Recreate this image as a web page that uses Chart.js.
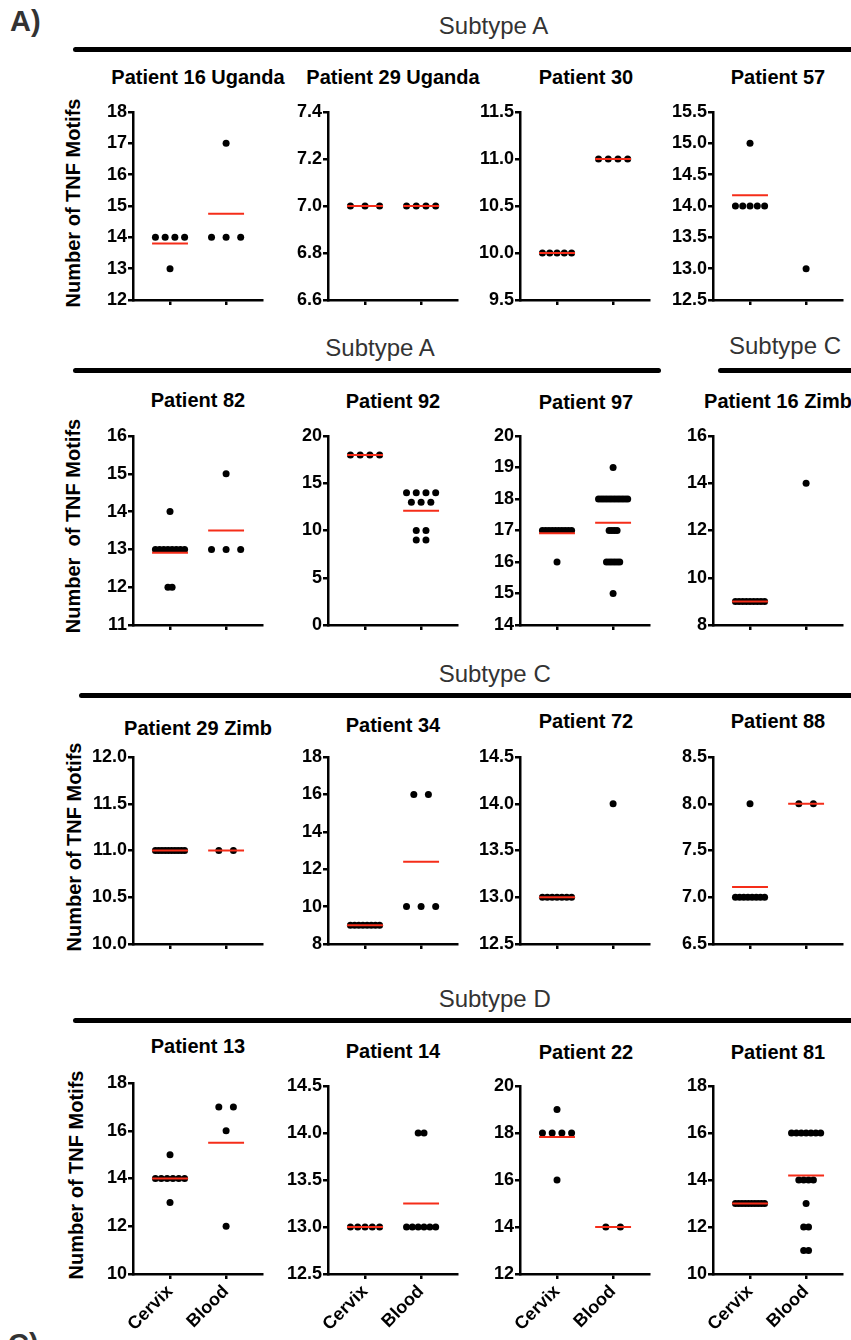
<!DOCTYPE html>
<html>
<head>
<meta charset="utf-8">
<script src="https://cdn.jsdelivr.net/npm/chart.js@4.4.1/dist/chart.umd.min.js"></script>
<style>
  html, body { margin: 0; padding: 0; background: #fff; }
  body { width: 851px; height: 1340px; position: relative; overflow: hidden; font-family: 'Liberation Sans', Arial, sans-serif; }
  canvas { position: absolute; }
  .txt { position: absolute; white-space: pre; }
  .title { font-weight: bold; font-size: 20px; line-height: 20px; width: 240px; text-align: center; color: #000; }
  .subtype { font-size: 24px; line-height: 24px; width: 240px; text-align: center; color: #333; }
  .ylab { font-weight: bold; font-size: 20px; line-height: 24px; width: 300px; height: 24px; text-align: center; color: #000; transform: rotate(-90deg); }
  .letter { font-weight: bold; font-size: 29px; line-height: 29px; color: #333; }
  .rule { position: absolute; height: 5px; background: #000; border-radius: 3px; }
</style>
</head>
<body>
<script>
// panel data (row by row, left to right)
const titles = [
  "Patient 16 Uganda", "Patient 29 Uganda", "Patient 30", "Patient 57",
  "Patient 82", "Patient 92", "Patient 97", "Patient 16 Zimb",
  "Patient 29 Zimb", "Patient 34", "Patient 72", "Patient 88",
  "Patient 13", "Patient 14", "Patient 22", "Patient 81"
];
const categories = ["Cervix", "Blood"];

const cervix = [
  [14, 14, 14, 14, 13],
  [7, 7, 7],
  [10, 10, 10, 10, 10],
  [15, 14, 14, 14, 14, 14],
  [14, 13, 13, 13, 13, 13, 13, 13, 13, 12, 12],
  [18, 18, 18, 18],
  [17, 17, 17, 17, 17, 17, 17, 17, 17, 17, 16],
  [9, 9, 9, 9, 9, 9, 9, 9, 9],
  [11, 11, 11, 11, 11, 11, 11, 11, 11, 11],
  [9, 9, 9, 9, 9, 9, 9, 9],
  [13, 13, 13, 13, 13, 13, 13],
  [8, 7, 7, 7, 7, 7, 7, 7, 7],
  [15, 14, 14, 14, 14, 14, 14, 13],
  [13, 13, 13, 13, 13],
  [19, 18, 18, 18, 18, 16],
  [13, 13, 13, 13, 13, 13, 13, 13, 13, 13]
];
const blood = [
  [17, 14, 14, 14],
  [7, 7, 7, 7],
  [11, 11, 11, 11],
  [13],
  [15, 13, 13, 13],
  [14, 14, 14, 14, 13, 13, 13, 10, 10, 9, 9],
  [19, 18, 18, 18, 18, 18, 18, 18, 18, 18, 18, 18, 18, 17, 17, 17, 17, 16, 16, 16, 16, 16, 16, 15],
  [14],
  [11, 11],
  [16, 16, 10, 10, 10],
  [14],
  [8, 8],
  [17, 17, 16, 12],
  [14, 14, 13, 13, 13, 13, 13, 13],
  [14, 14],
  [16, 16, 16, 16, 16, 16, 16, 14, 14, 14, 14, 13, 12, 12, 11, 11]
];
const cervixMean = [13.8, 7, 10, 14.17, 12.91, 18, 16.91, 9, 11, 9, 13, 7.11, 14, 13, 17.83, 13];
const bloodMean = [14.75, 7, 11, null, 13.5, 12.09, 17.25, null, 11, 12.4, null, 8, 15.5, 13.25, 14, 14.19];

const yMin = [12, 6.6, 9.5, 12.5, 11, 0, 14, 8, 10, 8, 12.5, 6.5, 10, 12.5, 12, 10];
const yMax = [18, 7.4, 11.5, 15.5, 16, 20, 20, 16, 12, 18, 14.5, 8.5, 18, 14.5, 20, 18];
const yStep = [1, 0.2, 0.5, 0.5, 1, 5, 1, 2, 0.5, 2, 0.5, 0.5, 2, 0.5, 2, 2];

const yTitles = ["Number of TNF Motifs", "Number  of TNF Motifs", "Number of TNF Motifs", "Number of TNF Motifs"];

// layout (pixels)
const axisX = [133, 328, 520, 713];
const titleX = [198, 393, 586, 778];
const plotW = 129;
const plotTop = [112, 112, 112, 112, 436, 436, 436, 436, 757, 757, 757, 757, 1083, 1086, 1086, 1086];
const plotBottom = [300, 300, 300, 300, 624.5, 624.5, 624.5, 624.5, 944, 944, 944, 944, 1273.5, 1274, 1274, 1274];
const titleBase = [84, 84, 84, 84, 407, 408, 409, 408, 735, 732, 728, 728, 1053, 1058, 1059, 1059];
const yTitlePos = [[73, 203], [73, 526], [74, 847], [76, 1175]];

const RED = "rgb(245,45,25)";
Chart.defaults.font.family = "'Liberation Sans', Arial, sans-serif";

function addText(cls, text, left, top) {
  const d = document.createElement("div");
  d.className = "txt " + cls;
  d.textContent = text;
  d.style.left = left + "px";
  d.style.top = top + "px";
  document.body.appendChild(d);
}

function addRule(x1, x2, yc) {
  const d = document.createElement("div");
  d.className = "rule";
  d.style.left = x1 + "px";
  d.style.width = (x2 - x1) + "px";
  d.style.top = (yc - 2.5) + "px";
  document.body.appendChild(d);
}

// spread equal values sideways, like a dot plot
function spread(values) {
  const counts = {};
  values.forEach(v => counts[v] = (counts[v] || 0) + 1);
  const maxRow = Math.max(...Object.values(counts));
  const step = maxRow > 1 ? Math.min(0.26, 0.52 / (maxRow - 1)) : 0;
  const seen = {};
  return values.map(v => {
    seen[v] = seen[v] === undefined ? 0 : seen[v] + 1;
    return { off: (seen[v] - (counts[v] - 1) / 2) * step, y: v };
  });
}

function makePanel(p) {
  const row = Math.floor(p / 4), col = p % 4;
  const L = 55, R = 6, T = 12, B = row === 3 ? 70 : 22;
  const h = plotBottom[p] - plotTop[p];
  const canvas = document.createElement("canvas");
  canvas.width = L + plotW + R;
  canvas.height = Math.round(T + h + B);
  canvas.style.left = (axisX[col] - L) + "px";
  canvas.style.top = (plotTop[p] - T) + "px";
  document.body.appendChild(canvas);

  const pts = [];
  [cervix[p], blood[p]].forEach((vals, c) => {
    spread(vals).forEach(d => pts.push({ x: c + d.off, y: d.y }));
  });

  const datasets = [{
    data: pts, pointRadius: 3.5, pointBackgroundColor: "#000",
    pointBorderWidth: 0, showLine: false, order: 2
  }];
  [cervixMean[p], bloodMean[p]].forEach((m, c) => {
    if (m === null) return;
    datasets.push({
      data: [{ x: c - 0.32, y: m }, { x: c + 0.32, y: m }],
      showLine: true, borderColor: RED, borderWidth: 2,
      pointRadius: 0, order: 1
    });
  });

  const tickFont = { size: 18, weight: "bold" };
  const dec = yStep[p] < 1 ? 1 : 0;
  const axisGrid = { drawOnChartArea: false, tickLength: 5, color: "#000", lineWidth: 2.5 };

  new Chart(canvas, {
    type: "scatter",
    data: { datasets },
    options: {
      responsive: false,
      animation: false,
      events: [],
      layout: { padding: { top: T, right: R, left: 0, bottom: 0 } },
      plugins: { legend: { display: false }, tooltip: { enabled: false } },
      scales: {
        x: {
          type: "linear", min: -0.66, max: 1.64,
          afterBuildTicks: s => { s.ticks = [{ value: 0 }, { value: 1 }]; },
          afterFit: s => { s.height = B; },
          ticks: {
            autoSkip: false,
            minRotation: row === 3 ? 45 : 0,
            maxRotation: row === 3 ? 45 : 0,
            padding: 2,
            color: "#000",
            font: tickFont,
            callback: v => row === 3 ? categories[v] : ""
          },
          grid: axisGrid,
          border: { color: "#000", width: 2.5 }
        },
        y: {
          min: yMin[p], max: yMax[p],
          afterBuildTicks: s => {
            const n = Math.round((yMax[p] - yMin[p]) / yStep[p]);
            const t = [];
            for (let k = 0; k <= n; k++) t.push({ value: +(yMin[p] + k * yStep[p]).toFixed(2) });
            s.ticks = t;
          },
          afterFit: s => { s.width = L; },
          ticks: {
            padding: 1,
            color: "#000",
            font: tickFont,
            callback: v => Number(v).toFixed(dec)
          },
          grid: axisGrid,
          border: { color: "#000", width: 2.5 }
        }
      }
    }
  });

  addText("title", titles[p], titleX[col] - 120, titleBase[p] - 17);
}

// page furniture
addText("letter", "A)", 10, 31 - 24.5);
addText("letter", "C)", 8, 1354 - 24.5);

const headers = [
  ["Subtype A", 493.5, 34.5, 73, 860, 49],
  ["Subtype A", 380, 356.5, 73, 661, 370],
  ["Subtype C", 785, 354.5, 718, 860, 370],
  ["Subtype C", 494.7, 682, 79, 860, 695.7],
  ["Subtype D", 494.7, 1007.5, 73, 860, 1020.7]
];
headers.forEach(h => {
  addText("subtype", h[0], h[1] - 120, h[2] - 20.3);
  addRule(h[3], h[4], h[5]);
});

yTitles.forEach((t, r) => {
  const [cx, cy] = yTitlePos[r];
  addText("ylab", t, cx - 150, cy - 12);
});

for (let p = 0; p < 16; p++) makePanel(p);
</script>
</body>
</html>
